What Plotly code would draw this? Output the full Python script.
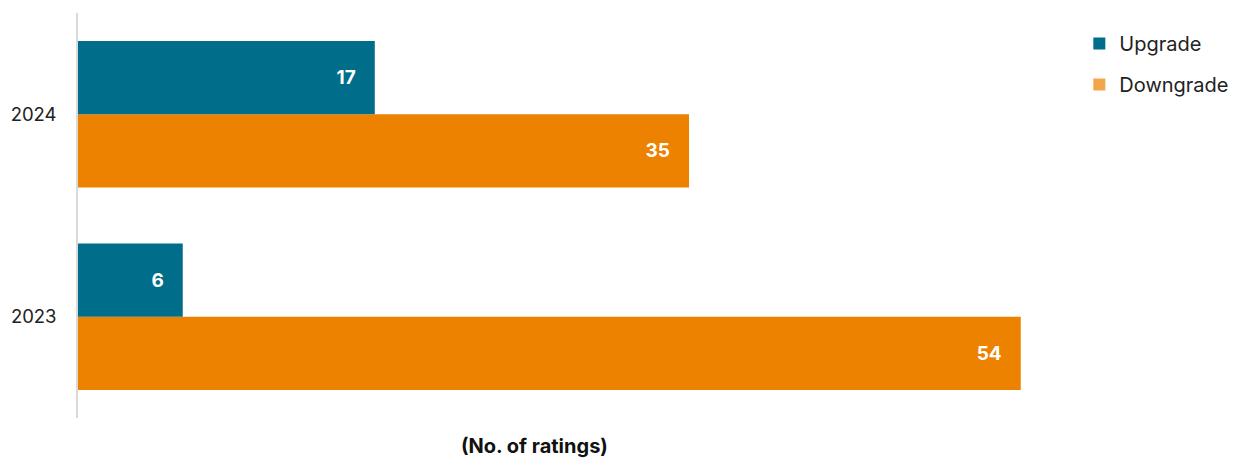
import plotly.graph_objects as go

years = ["2023", "2024"]
upgrade = [6, 17]
downgrade = [54, 35]
series_names = ["Upgrade", "Downgrade"]
bar_colors = {"Upgrade": "#006e8a", "Downgrade": "#ec8200"}
legend_colors = {"Upgrade": "#006e8a", "Downgrade": "#f2a54a"}
x_title = "(No. of ratings)"

FONT = "Inter, Roboto, Arial, sans-serif"
pad = "\u00a0\u00a0\u00a0"

fig = go.Figure()
fig.add_trace(go.Bar(
    y=years, x=downgrade, orientation="h", name="Downgrade",
    marker=dict(color=bar_colors["Downgrade"], line=dict(width=0)),
    texttemplate="<b>%{x}</b>" + pad, textposition="inside", insidetextanchor="end",
    textfont=dict(color="white", size=19, family=FONT), showlegend=False,
    hoverinfo="skip",
))
fig.add_trace(go.Bar(
    y=years, x=upgrade, orientation="h", name="Upgrade",
    marker=dict(color=bar_colors["Upgrade"], line=dict(width=0)),
    texttemplate="<b>%{x}</b>" + pad, textposition="inside", insidetextanchor="end",
    textfont=dict(color="white", size=19, family=FONT), showlegend=False,
    hoverinfo="skip",
))
for name in series_names:
    fig.add_trace(go.Scatter(
        x=[None], y=[None], mode="markers", name=name, legendgroup=name,
        marker=dict(symbol="square", size=12, color=legend_colors[name]),
    ))

fig.update_layout(
    width=1235, height=459,
    margin=dict(l=78, r=10, t=13, b=41, autoexpand=False),
    paper_bgcolor="white", plot_bgcolor="white",
    barmode="group", bargap=0.277, bargroupgap=0,
    font=dict(family=FONT, size=18, color="#222222"),
    showlegend=True,
    legend=dict(x=0.873, xanchor="left", y=0.973, yanchor="top", xref="paper",
                font=dict(size=20, color="#222222"), itemsizing="constant",
                tracegroupgap=12, bgcolor="rgba(0,0,0,0)"),
)
fig.update_xaxes(range=[0, 65.7], visible=False, showgrid=False, zeroline=False)
fig.update_yaxes(
    type="category", categoryorder="array", categoryarray=years,
    range=[-0.5, 1.5], showgrid=False, zeroline=False,
    showline=True, linecolor="#d9d9d9", linewidth=1.5,
    ticks="", ticklabelstandoff=16, tickfont=dict(size=18.5, color="#222222"),
)
fig.add_annotation(
    text="<b>" + x_title + "</b>", xref="paper", yref="paper",
    x=(534 - 78) / 1147, y=-0.035, yanchor="top", xanchor="center", showarrow=False,
    font=dict(size=20, color="#111111"),
)
fig.write_html("out.html")
